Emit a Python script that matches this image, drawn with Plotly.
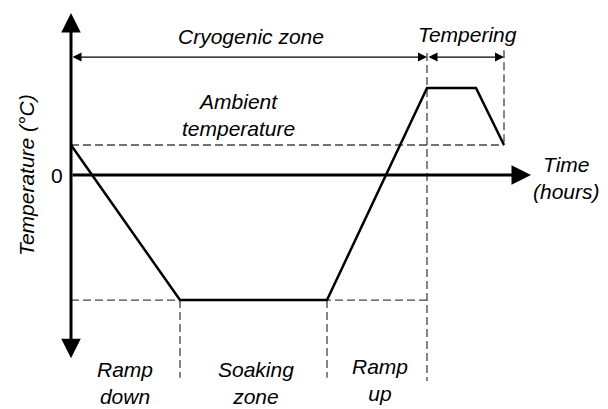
import plotly.graph_objects as go

# Schematic cryogenic treatment profile (arbitrary units)
time_h = [0, 10.9, 25.6, 35.6, 40.5, 43.3]
temp_c = [25, -104.2, -104.2, 72.5, 72.5, 25]

ambient = 25
soak = -104.2
t_axis_end = 46
y_axis_top = 135
y_axis_bottom = -154

DASH = "#444444"
F = "Liberation Sans"

fig = go.Figure()

# ambient dashed line
fig.add_trace(go.Scatter(x=[time_h[0], time_h[-1]], y=[ambient, ambient], mode="lines",
                         line=dict(color=DASH, width=1.3, dash="8px,4px"), hoverinfo="skip"))
# soak dashed line
fig.add_trace(go.Scatter(x=[time_h[0], time_h[3]], y=[soak, soak], mode="lines",
                         line=dict(color=DASH, width=1.3, dash="8px,4px"), hoverinfo="skip"))
# vertical dashed lines
vlines = [(time_h[1], soak, -169), (time_h[2], soak, -169), (time_h[3], 101.7, -171.7), (time_h[5], 104, ambient)]
for xv, y0, y1 in vlines:
    fig.add_trace(go.Scatter(x=[xv, xv], y=[y0, y1], mode="lines",
                             line=dict(color=DASH, width=1.3, dash="8px,4px"), hoverinfo="skip"))

# profile
fig.add_trace(go.Scatter(x=time_h, y=temp_c, mode="lines",
                         line=dict(color="black", width=2.5), hoverinfo="skip"))

def arrow(x, y, ax, ay, width, size, both=False):
    fig.add_annotation(x=x, y=y, ax=ax, ay=ay, xref="x", yref="y", axref="x", ayref="y",
                       showarrow=True, arrowhead=2, arrowsize=size, arrowwidth=width,
                       arrowcolor="black", arrowside="end+start" if both else "end", text="")

# axes
arrow(0, y_axis_top, 0, y_axis_bottom, 3, 1.3, both=True)
arrow(t_axis_end, 0, 0, 0, 3, 1.3)
# zone arrows
arrow(time_h[3], 98.3, 0, 98.3, 1.2, 1.5, both=True)
arrow(time_h[5], 98.3, time_h[3], 98.3, 1.2, 1.5, both=True)

def label(x, y, txt, angle=0, italic=True):
    fig.add_annotation(x=x, y=y, xref="x", yref="y", text=txt, showarrow=False, textangle=angle,
                       font=dict(family=F, size=21, color="black",
                                 style="italic" if italic else "normal"))

label(18.0, 115.8, "Cryogenic zone")
label(39.6, 116.7, "Tempering")
label(16.7, 50, "Ambient<br>temperature")
label(49.5, -2.5, "Time<br>(hours)")
label(-1.4, 0, "0", italic=False)
label(-4.5, 0, "Temperature (°C)", angle=-90)
label(5.4, -173.5, "Ramp<br>down")
label(18.5, -173.5, "Soaking<br>zone")
label(30.9, -170.5, "Ramp<br>up")

# page body has an 8px margin: plot area covers page pixels 8..608 x 8..409
fig.update_layout(width=600, height=401, margin=dict(l=0, r=0, t=0, b=0),
                  paper_bgcolor="white", plot_bgcolor="white", showlegend=False,
                  xaxis=dict(range=[-6.3, 53.7], visible=False),
                  yaxis=dict(range=[-195, 139.17], visible=False))
fig.write_html("out.html")
